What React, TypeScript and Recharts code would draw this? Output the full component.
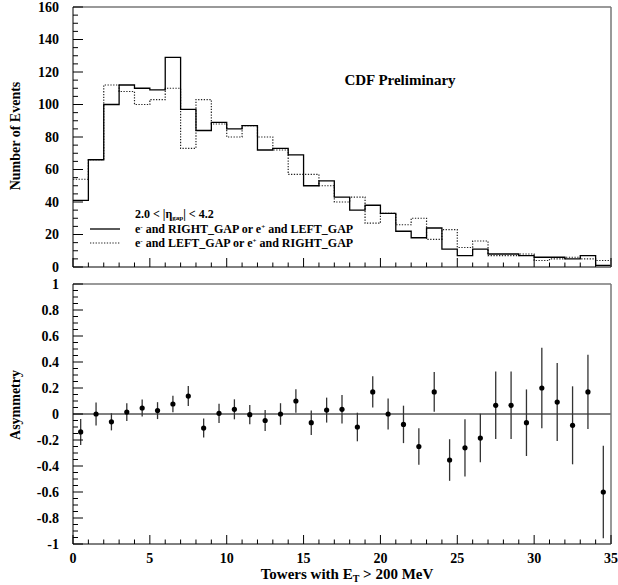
import React from 'react';
import { ComposedChart, Line, XAxis, YAxis, Scatter, ErrorBar, ReferenceLine } from 'recharts';

// Bin lower edges (towers with E_T > 200 MeV), 35 bins of width 1
const binLow = [0, 1, 2, 3, 4, 5, 6, 7, 8, 9, 10, 11, 12, 13, 14, 15, 16, 17, 18, 19, 20, 21, 22, 23, 24, 25, 26, 27, 28, 29, 30, 31, 32, 33, 34];
// e- RIGHT_GAP or e+ LEFT_GAP (solid)
const solidCounts = [41, 66, 100, 112, 110, 109, 129, 97, 84, 89, 85, 87, 72, 73, 69, 50, 53, 43, 35, 38, 33, 22, 18, 24, 11, 7, 11, 8, 8, 7, 6, 6, 5, 7, 1];
// e- LEFT_GAP or e+ RIGHT_GAP (dotted)
const dottedCounts = [54, 66, 112, 108, 100, 103, 110, 73, 103, 88, 80, 87, 80, 72, 57, 57, 50, 40, 43, 27, 33, 26, 30, 17, 23, 12, 16, 7, 7, 8, 4, 5, 6, 5, 4];
// Asymmetry per bin and its error
const asymmetry = [-0.138, 0, -0.06, 0.015, 0.046, 0.026, 0.077, 0.138, -0.108, 0.005, 0.036, -0.005, -0.05, 0, 0.1, -0.067, 0.03, 0.036, -0.1, 0.17, 0, -0.08, -0.25, 0.17, -0.354, -0.26, -0.185, 0.067, 0.067, -0.067, 0.2, 0.092, -0.087, 0.17, -0.6];
const asymErr = [0.1, 0.088, 0.066, 0.068, 0.065, 0.065, 0.064, 0.077, 0.073, 0.074, 0.077, 0.074, 0.08, 0.083, 0.09, 0.094, 0.096, 0.11, 0.11, 0.12, 0.12, 0.144, 0.14, 0.153, 0.16, 0.22, 0.187, 0.26, 0.26, 0.256, 0.31, 0.3, 0.3, 0.285, 0.355];

// Axis tick labels
const xMajorLabels = [0, 5, 10, 15, 20, 25, 30, 35];
const yTopMajorLabels = [0, 20, 40, 60, 80, 100, 120, 140, 160];
const yBottomMajorLabels = ['-1', '-0.8', '-0.6', '-0.4', '-0.2', '0', '0.2', '0.4', '0.6', '0.8', '1'];

const histData = [...binLow.map((x, i) => ({ x, solid: solidCounts[i], dotted: dottedCounts[i] })),
  { x: 35, solid: solidCounts[34], dotted: dottedCounts[34] }];
const asymData = binLow.map((x, i) => ({ x: x + 0.5, a: asymmetry[i], e: asymErr[i] }));

const xTicks = Array.from({ length: 36 }, (_, i) => i);
const yTopTicks = Array.from({ length: 33 }, (_, i) => i * 5);
const yBotTicks = Array.from({ length: 41 }, (_, i) => Number(((i - 20) * 0.05).toFixed(2)));

const FONT = "'Liberation Serif', 'Times New Roman', serif";

const makeXTick = (showLabels: boolean) => (props: any) => {
  const { x, y, payload } = props;
  const v = payload.value;
  const major = xMajorLabels.includes(v);
  return (
    <g>
      <line x1={x} x2={x} y1={y} y2={y - (major ? 9 : 4.5)} stroke="#000" strokeWidth={1} />
      {showLabels && major ? (
        <text x={x} y={y + 19} textAnchor="middle" fontFamily={FONT} fontWeight="bold" fontSize={14} fill="#000">{String(v)}</text>
      ) : null}
    </g>
  );
};

const makeYTick = (isMajor: (v: number) => string | null) => (props: any) => {
  const { x, y, payload } = props;
  const lab = isMajor(payload.value);
  return (
    <g>
      <line x1={x} x2={x + (lab !== null ? 10 : 5)} y1={y} y2={y} stroke="#000" strokeWidth={1} />
      {lab !== null ? (
        <text x={x - 14} y={y} dy="0.35em" textAnchor="end" fontFamily={FONT} fontWeight="bold" fontSize={14} fill="#000">{lab}</text>
      ) : null}
    </g>
  );
};

const topYLabel = (v: number) => (yTopMajorLabels.includes(v) ? String(v) : null);
const botYLabel = (v: number) => {
  const s = String(Number(v.toFixed(2)));
  return yBottomMajorLabels.includes(s) ? s : null;
};

const Dot = (props: any) => <circle cx={props.cx} cy={props.cy} r={2.6} fill="#000" />;

export default function App() {
  return (
    <div style={{ position: 'absolute', left: 0, top: 0, width: 618, height: 585, background: '#fff' }}>
      <div style={{ position: 'absolute', left: 0, top: 0 }}>
        <ComposedChart width={618} height={280} data={histData} margin={{ top: 6, right: 6, bottom: 12, left: 72 }}>
          <XAxis dataKey="x" type="number" domain={[0, 35]} ticks={xTicks} interval={0} height={1}
            tickLine={false} tickSize={0} tickMargin={0} axisLine={{ stroke: '#000' }} tick={makeXTick(false)} />
          <XAxis xAxisId="top" orientation="top" type="number" domain={[0, 35]} height={1} tick={false} tickLine={false}
            axisLine={{ stroke: '#777', strokeWidth: 1.5 }} />
          <YAxis type="number" domain={[0, 160]} ticks={yTopTicks} interval={0} width={1}
            tickLine={false} tickSize={0} tickMargin={0} axisLine={{ stroke: '#000' }} tick={makeYTick(topYLabel)} />
          <YAxis yAxisId="right" orientation="right" type="number" domain={[0, 160]} width={1} tick={false} tickLine={false}
            axisLine={{ stroke: '#777', strokeWidth: 1.5 }} />
          <Line dataKey="dotted" type="stepAfter" stroke="#222" strokeWidth={1.2} strokeDasharray="1.3 1.5" dot={false} isAnimationActive={false} />
          <Line dataKey="solid" type="stepAfter" stroke="#000" strokeWidth={1.3} dot={false} isAnimationActive={false} />
        </ComposedChart>
      </div>
      <div style={{ position: 'absolute', left: 0, top: 270 }}>
        <ComposedChart width={618} height={315} margin={{ top: 13, right: 6, bottom: 40, left: 72 }}>
          <XAxis dataKey="x" type="number" domain={[0, 35]} ticks={xTicks} interval={0} height={1}
            tickLine={false} tickSize={0} tickMargin={0} axisLine={{ stroke: '#000' }} tick={makeXTick(true)} />
          <XAxis xAxisId="top" orientation="top" type="number" domain={[0, 35]} height={1} tick={false} tickLine={false}
            axisLine={{ stroke: '#777', strokeWidth: 1.5 }} />
          <YAxis type="number" domain={[-1, 1]} ticks={yBotTicks} interval={0} width={1}
            tickLine={false} tickSize={0} tickMargin={0} axisLine={{ stroke: '#000' }} tick={makeYTick(botYLabel)} />
          <YAxis yAxisId="right" orientation="right" type="number" domain={[-1, 1]} width={1} tick={false} tickLine={false}
            axisLine={{ stroke: '#777', strokeWidth: 1.5 }} />
          <ReferenceLine y={0} stroke="#000" strokeWidth={1} />
          <Scatter data={asymData} dataKey="a" shape={Dot} isAnimationActive={false}>
            <ErrorBar dataKey="e" direction="y" width={0} stroke="#333" strokeWidth={1.3} />
          </Scatter>
        </ComposedChart>
      </div>
      <svg width={618} height={585} style={{ position: 'absolute', left: 0, top: 0, pointerEvents: 'none' }}>
        <g fontFamily={FONT} fontWeight="bold" fill="#000">
          <text transform="translate(20,136) rotate(-90)" textAnchor="middle" fontSize={14}>Number of Events</text>
          <text transform="translate(20,405) rotate(-90)" textAnchor="middle" fontSize={14}>Asymmetry</text>
          <text x={347} y={579} textAnchor="middle" fontSize={15}>
            Towers with E<tspan dy={3} fontSize={10}>T</tspan><tspan dy={-3}> &gt; 200 MeV</tspan>
          </text>
          <text x={400} y={85} textAnchor="middle" fontSize={15}>CDF Preliminary</text>
          <text x={135} y={218} fontSize={12}>
            2.0 &lt; |η<tspan dy={2} fontSize={7}>gap</tspan><tspan dy={-2}>| &lt; 4.2</tspan>
          </text>
          <line x1={90} x2={120} y1={229} y2={229} stroke="#000" strokeWidth={1.3} />
          <text x={135} y={233} fontSize={12}>
            e<tspan dy={-4} fontSize={7}>-</tspan><tspan dy={4}> and RIGHT_GAP or e</tspan><tspan dy={-4} fontSize={7}>+</tspan><tspan dy={4}> and LEFT_GAP</tspan>
          </text>
          <line x1={90} x2={120} y1={243} y2={243} stroke="#222" strokeWidth={1.2} strokeDasharray="1.3 1.5" />
          <text x={135} y={247} fontSize={12}>
            e<tspan dy={-4} fontSize={7}>-</tspan><tspan dy={4}> and LEFT_GAP or e</tspan><tspan dy={-4} fontSize={7}>+</tspan><tspan dy={4}> and RIGHT_GAP</tspan>
          </text>
        </g>
      </svg>
    </div>
  );
}
